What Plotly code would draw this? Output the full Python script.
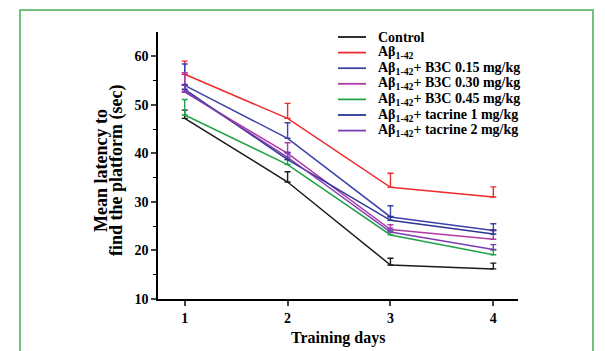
import plotly.graph_objects as go

days = [1, 2, 3, 4]
series_names = [
    "Control",
    "Aβ<sub>1-42</sub>",
    "Aβ<sub>1-42</sub>+ B3C 0.15 mg/kg",
    "Aβ<sub>1-42</sub>+ B3C 0.30 mg/kg",
    "Aβ<sub>1-42</sub>+ B3C 0.45 mg/kg",
    "Aβ<sub>1-42</sub>+ tacrine 1 mg/kg",
    "Aβ<sub>1-42</sub>+ tacrine 2 mg/kg",
]
control = [47.2, 34.1, 17.0, 16.2]
abeta = [56.3, 47.2, 33.0, 31.0]
b3c_015 = [54.0, 43.1, 26.9, 24.1]
b3c_030 = [52.6, 40.0, 24.3, 22.3]
b3c_045 = [47.9, 37.7, 23.2, 19.1]
tacrine_1 = [53.2, 38.7, 26.2, 23.4]
tacrine_2 = [52.8, 39.2, 23.8, 20.2]

control_err = [1.7, 2.1, 1.4, 1.2]
abeta_err = [2.7, 3.1, 2.9, 2.1]
b3c_015_err = [4.4, 3.2, 2.3, 1.4]
b3c_030_err = [4.0, 2.2, 1.0, 1.8]
b3c_045_err = [3.2, 1.0, 0.8, 1.0]
tacrine_1_err = [1.0, 1.5, 0.8, 0.8]
tacrine_2_err = [1.2, 1.0, 0.8, 1.0]

y_tick_vals = [10, 20, 30, 40, 50, 60]
y_minor_vals = [15, 25, 35, 45, 55]
x_title = "Training days"
y_title_lines = ["Mean latency to", "find the platform (sec)"]

values = [control, abeta, b3c_015, b3c_030, b3c_045, tacrine_1, tacrine_2]
errors = [control_err, abeta_err, b3c_015_err, b3c_030_err, b3c_045_err, tacrine_1_err, tacrine_2_err]
colors = ["#1a1a1a", "#f02a2a", "#3c43a8", "#b23aa6", "#22a348", "#2b3596", "#7b3fb3"]

# target plot area on the page (pixels), the page body adds an 8px offset
OFF = 8
PL, PR, PT, PB = 158, 518, 32, 299
W, H = 605, 351
PW, PH = PR - PL, PB - PT


def px(xpix):
    return (xpix - PL) / PW


def py(ypix):
    return (PB - ypix) / PH


fig = go.Figure()
for name, v, e, c in zip(series_names, values, errors, colors):
    fig.add_trace(go.Scatter(
        x=days, y=v, name=name, mode="lines", showlegend=False,
        line=dict(color=c, width=1.5),
        error_y=dict(type="data", symmetric=False, array=e, arrayminus=[0] * len(e),
                     color=c, thickness=1.4, width=3),
    ))

font_fam = "Liberation Serif"
fig.update_layout(
    width=W, height=H,
    margin=dict(l=PL - OFF, r=W - PR + OFF, t=PT - OFF, b=H - PB + OFF, autoexpand=False),
    paper_bgcolor="white", plot_bgcolor="white",
    font=dict(family=font_fam, color="black"),
    showlegend=False,
    xaxis=dict(range=[0.74, 4.24], tickvals=days, ticks="outside", ticklen=5, tickwidth=1.5,
               showline=True, linecolor="black", linewidth=1.5, showgrid=False, zeroline=False,
               automargin=False,
               tickfont=dict(family=font_fam, size=14, color="black", weight="bold")),
    yaxis=dict(range=[10, 65], tickvals=y_tick_vals, ticks="outside", ticklen=5,
               tickwidth=1.5, showline=True, linecolor="black", linewidth=1.5, showgrid=False,
               zeroline=False, automargin=False,
               minor=dict(tickvals=y_minor_vals, ticks="outside", ticklen=3, tickwidth=1.2,
                          tickcolor="black"),
               tickfont=dict(family=font_fam, size=14, color="black", weight="bold")),
)

# axis titles
fig.add_annotation(text=x_title, xref="paper", yref="paper", x=px(338), y=py(338),
                   xanchor="center", yanchor="middle", showarrow=False,
                   font=dict(family=font_fam, size=16, color="black", weight="bold"))
for line_text, xc in zip(y_title_lines, [101, 117]):
    fig.add_annotation(text=line_text, xref="paper", yref="paper", x=px(xc), y=py(171),
                       xanchor="center", yanchor="middle", showarrow=False, textangle=-90,
                       font=dict(family=font_fam, size=18, color="black", weight="bold"))

# legend (drawn as line samples and labels)
for i, (name, c) in enumerate(zip(series_names, colors)):
    yy = 37 + 15.6 * i
    fig.add_shape(type="line", xref="paper", yref="paper", x0=px(338), x1=px(366),
                  y0=py(yy), y1=py(yy), line=dict(color=c, width=1.8))
    fig.add_annotation(text=name, xref="paper", yref="paper", x=px(376), y=py(yy),
                       xanchor="left", yanchor="middle", showarrow=False,
                       font=dict(family=font_fam, size=14, color="black", weight="bold"))

# green frame
fig.add_shape(type="rect", xref="paper", yref="paper",
              x0=px(20), x1=px(593), y0=py(365), y1=py(10),
              line=dict(color="#72c17e", width=2), fillcolor="rgba(0,0,0,0)", layer="below")

fig.write_html("out.html")
